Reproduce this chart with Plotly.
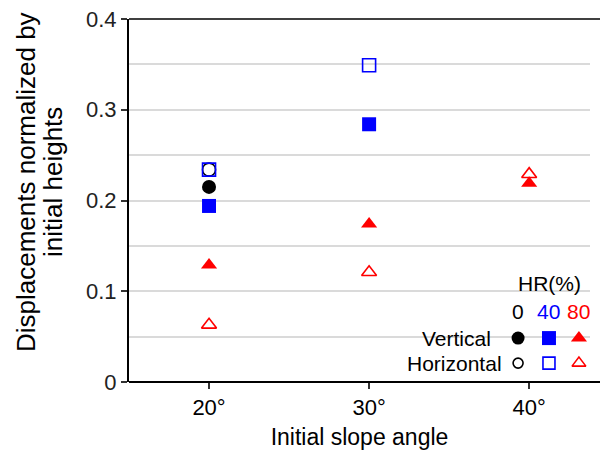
import plotly.graph_objects as go

# Initial slope angle (degrees) and normalized displacements per humidity ratio
angles = [20, 30, 40]
hr0_vertical = [0.215, None, None]
hr0_horizontal = [0.234, None, None]
hr40_vertical = [0.194, 0.284, None]
hr40_horizontal = [0.234, 0.349, None]
hr80_vertical = [0.129, 0.174, 0.219]
hr80_horizontal = [0.063, 0.121, 0.229]

x_ticks = [20, 30, 40]
x_tick_labels = ["20°", "30°", "40°"]
y_ticks = [0, 0.1, 0.2, 0.3, 0.4]
y_tick_labels = ["0", "0.1", "0.2", "0.3", "0.4"]
y_title_lines = ["Displacements normalized by", "initial heights"]
x_title = "Initial slope angle"

hr_levels = ["0", "40", "80"]
hr_colors = ["#000000", "#0000ff", "#ff0000"]
hr_symbols = ["circle", "square", "triangle-up"]
directions = ["Vertical", "Horizontal"]

FONT = "Liberation Sans, Arial, sans-serif"

series = [
    (hr0_vertical, hr0_horizontal),
    (hr40_vertical, hr40_horizontal),
    (hr80_vertical, hr80_horizontal),
]

fig = go.Figure()

# horizontal first so filled markers sit on top where they overlap
for (vert, horiz), color, symbol in zip(series, hr_colors, hr_symbols):
    fig.add_trace(go.Scatter(
        x=angles, y=horiz, mode="markers", showlegend=False,
        marker=dict(symbol=symbol + "-open", size=13, color=color,
                    line=dict(width=1.6, color=color)),
        cliponaxis=False,
    ))
for (vert, horiz), color, symbol in zip(series, hr_colors, hr_symbols):
    fig.add_trace(go.Scatter(
        x=angles, y=vert, mode="markers", showlegend=False,
        marker=dict(symbol=symbol, size=14, color=color, line=dict(width=0)),
        cliponaxis=False,
    ))

# key swatches on an auxiliary unit axis pair spanning the plot area
key_x = [0.844, 0.911, 0.976]
key_y = [0.121, 0.052]
for i, (color, symbol) in enumerate(zip(hr_colors, hr_symbols)):
    fig.add_trace(go.Scatter(
        x=[key_x[i]], y=[key_y[0]], xaxis="x2", yaxis="y2", mode="markers",
        showlegend=False, hoverinfo="skip", cliponaxis=False,
        marker=dict(symbol=symbol, size=14 if symbol != "circle" else 13,
                    color=color, line=dict(width=0)),
    ))
    fig.add_trace(go.Scatter(
        x=[key_x[i]], y=[key_y[1]], xaxis="x2", yaxis="y2", mode="markers",
        showlegend=False, hoverinfo="skip", cliponaxis=False,
        marker=dict(symbol=symbol + "-open", size=10 if symbol == "circle" else 12,
                    color=color, line=dict(width=1.6, color=color)),
    ))

annotations = [
    dict(text="HR(%)", x=0.912, y=0.27, xanchor="center", yanchor="middle",
         font=dict(size=21, color="#000")),
]
for level, color, kx in zip(hr_levels, hr_colors, key_x):
    annotations.append(dict(text=level, x=kx, y=0.193, xanchor="center",
                            yanchor="middle", font=dict(size=21, color=color)))
annotations.append(dict(text=directions[0], x=0.789, y=key_y[0], xanchor="right",
                        yanchor="middle", font=dict(size=21, color="#000")))
annotations.append(dict(text=directions[1], x=0.814, y=key_y[1], xanchor="right",
                        yanchor="middle", font=dict(size=21, color="#000")))
# two-line rotated y-axis title, lines placed individually for tight spacing
for line, lx in zip(y_title_lines, [-0.2234, -0.1649]):
    annotations.append(dict(text=line, x=lx, y=0.551, textangle=-90,
                            xanchor="center", yanchor="middle",
                            font=dict(size=26, color="#000")))
for a in annotations:
    a.update(xref="paper", yref="paper", showarrow=False)

shapes = [
    # white backing behind the key
    dict(type="rect", xref="paper", yref="paper", x0=0.555, x1=1.03,
         y0=0.006, y1=0.31, fillcolor="white", line=dict(width=0), layer="between"),
    # top frame line
    dict(type="line", xref="paper", yref="paper", x0=0, x1=1.03, y0=1, y1=1,
         line=dict(color="#404040", width=2)),
    # x axis line runs to the figure edge
    dict(type="line", xref="paper", yref="paper", x0=0, x1=1.03, y0=0, y1=0,
         line=dict(color="#000", width=2)),
]

fig.update_layout(
    width=600, height=450,
    margin=dict(l=129, r=10, t=19, b=68, autoexpand=False),
    paper_bgcolor="white", plot_bgcolor="white",
    font=dict(family=FONT, color="#000", size=21),
    showlegend=False,
    annotations=annotations,
    shapes=shapes,
    xaxis=dict(
        range=[15, 43.8], tickvals=x_ticks, ticktext=x_tick_labels,
        showgrid=False, zeroline=False, showline=False, automargin=False,
        ticks="outside", ticklen=6, tickwidth=1.5, tickcolor="#333",
        tickfont=dict(size=22, color="#000"),
        title=dict(text=x_title, font=dict(size=23, color="#000"), standoff=9),
    ),
    yaxis=dict(
        range=[0, 0.4], tickvals=y_ticks, ticktext=y_tick_labels,
        showgrid=True, gridcolor="#dadada", gridwidth=1.5, automargin=False,
        minor=dict(dtick=0.05, showgrid=True, gridcolor="#dadada", gridwidth=1.5),
        zeroline=False, showline=True, linecolor="#000", linewidth=2,
        ticks="outside", ticklen=6, tickwidth=1.5, tickcolor="#333",
        tickfont=dict(size=22, color="#222"),
    ),
    xaxis2=dict(range=[0, 1], overlaying="x", visible=False, fixedrange=True),
    yaxis2=dict(range=[0, 1], overlaying="y", visible=False, fixedrange=True),
)

fig.write_html("out.html")
